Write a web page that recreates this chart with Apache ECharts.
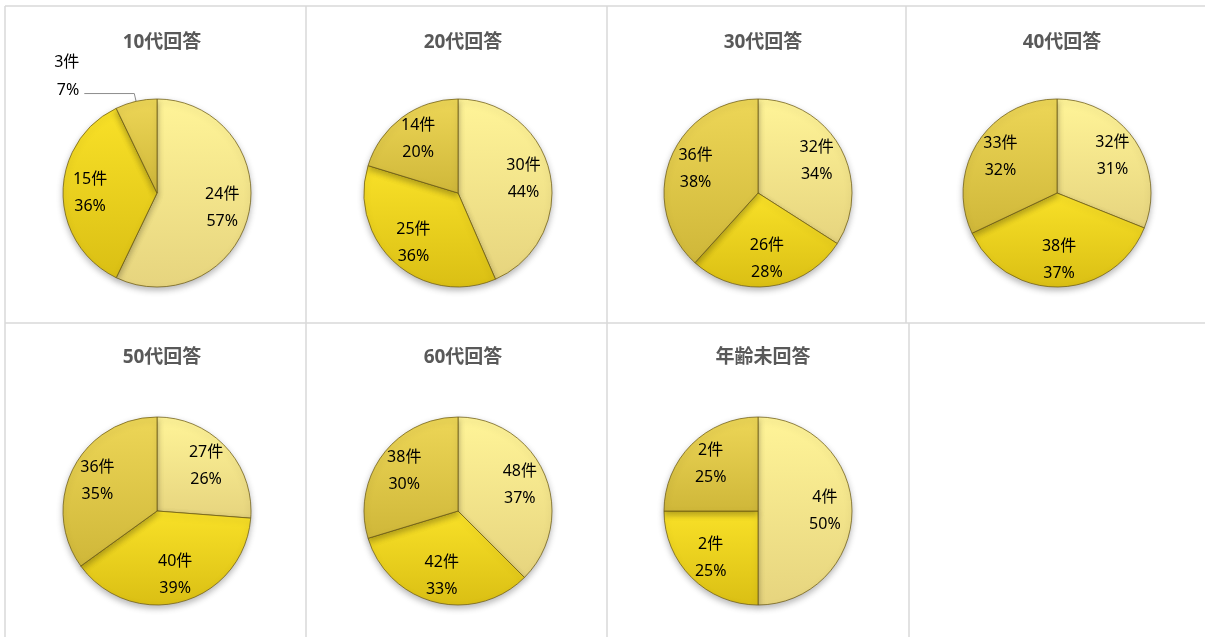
<!DOCTYPE html>
<html>
<head>
<meta charset="utf-8">
<script src="https://cdn.jsdelivr.net/npm/echarts@6/dist/echarts.min.js"></script>
<style>
  html, body { margin: 0; padding: 0; background: #ffffff; }
  #chart { width: 1205px; height: 637px; }
</style>
</head>
<body>
<div id="chart"></div>
<script>
// Panel titles (age groups)
const titles = ['10代回答', '20代回答', '30代回答', '40代回答', '50代回答', '60代回答', '年齢未回答'];
// Slice names, in clockwise order from 12 o'clock
const sliceNames = ['回答A', '回答B', '回答C'];
// Counts per age group (件)
const counts10 = [24, 15, 3];
const counts20 = [30, 25, 14];
const counts30 = [32, 26, 36];
const counts40 = [32, 38, 33];
const counts50 = [27, 40, 36];
const counts60 = [48, 42, 38];
const countsNone = [4, 2, 2];
const groups = [counts10, counts20, counts30, counts40, counts50, counts60, countsNone];

// Layout of the 4 x 2 panel grid
const colCenters = [157, 458, 758, 1057];
const rowPieY = [193, 511];
const rowTitleY = [38, 353];
const R = 94;

// Bevel-like vertical gradients for the three slice colours
function grad(top, bottom) {
  return {
    type: 'linear', x: 0, y: 0, x2: 0, y2: 1,
    colorStops: [{ offset: 0, color: top }, { offset: 1, color: bottom }]
  };
}
const sliceFills = [
  grad('#FFF498', '#E6D47E'),
  grad('#F9E128', '#DABF14'),
  grad('#EDD657', '#CFB739')
];

const FONT = "'Noto Sans', 'Noto Sans CJK JP', sans-serif";
const labelText = '{c}件\n{d}%';

const series = [];
const titleOpts = [];
groups.forEach((counts, g) => {
  const row = g < 4 ? 0 : 1;
  const col = g % 4;
  const cx = colCenters[col];
  const cy = rowPieY[row];
  const total = counts.reduce((a, b) => a + b, 0);
  const isSmall = counts.map(v => v / total < 0.1);

  titleOpts.push({
    text: titles[g],
    left: cx, top: rowTitleY[row], textAlign: 'center', textVerticalAlign: 'middle',
    textStyle: { fontFamily: FONT, fontSize: 19, fontWeight: 'bold', color: '#595959' }
  });

  // Pie slices
  series.push({
    type: 'pie',
    center: [cx, cy],
    radius: R,
    startAngle: 90,
    clockwise: true,
    percentPrecision: 0,
    silent: true,
    animation: false,
    avoidLabelOverlap: false,
    itemStyle: {
      borderColor: 'rgba(110, 92, 20, 0.75)',
      borderWidth: 1,
      shadowBlur: 6,
      shadowOffsetY: 3,
      shadowColor: 'rgba(0,0,0,0.28)'
    },
    label: {
      show: false, position: 'outside', formatter: labelText,
      fontFamily: FONT, fontSize: 16, lineHeight: 28, color: '#000', align: 'left'
    },
    labelLine: { show: false, length: 8, length2: 50, lineStyle: { color: '#8c8c8c', width: 1 } },
    labelLayout: { dy: -17 },
    data: counts.map((v, i) => ({
      value: v,
      name: sliceNames[i],
      itemStyle: { color: sliceFills[i] },
      label: { show: isSmall[i] },
      labelLine: { show: isSmall[i] }
    }))
  });

  // Transparent companion ring that carries the in-slice labels at ~0.68R
  series.push({
    type: 'pie',
    center: [cx, cy],
    radius: [0, R * 1.36],
    startAngle: 90,
    clockwise: true,
    percentPrecision: 0,
    silent: true,
    animation: false,
    avoidLabelOverlap: false,
    z: 5,
    itemStyle: { color: 'rgba(0,0,0,0)' },
    label: {
      position: 'inside', formatter: labelText,
      fontFamily: FONT, fontSize: 16, lineHeight: 27, color: '#000'
    },
    labelLine: { show: false },
    data: counts.map((v, i) => ({
      value: v,
      name: sliceNames[i],
      label: { show: !isSmall[i] }
    }))
  });
});

// Panel border lines
const lineColor = '#D9D9D9';
function seg(x1, y1, x2, y2) {
  return { type: 'line', shape: { x1, y1, x2, y2 }, style: { stroke: lineColor, lineWidth: 1.5 }, silent: true };
}
const borders = [
  seg(5, 6, 1205, 6),
  seg(5, 323, 1205, 323),
  seg(5, 6, 5, 637),
  seg(306, 6, 306, 637),
  seg(607, 6, 607, 637),
  seg(906, 6, 906, 323),
  seg(909, 323, 909, 637)
];

const chart = echarts.init(document.getElementById('chart'), null, { renderer: 'canvas' });
chart.setOption({
  backgroundColor: '#ffffff',
  animation: false,
  title: titleOpts,
  graphic: borders,
  series: series
});
</script>
</body>
</html>
